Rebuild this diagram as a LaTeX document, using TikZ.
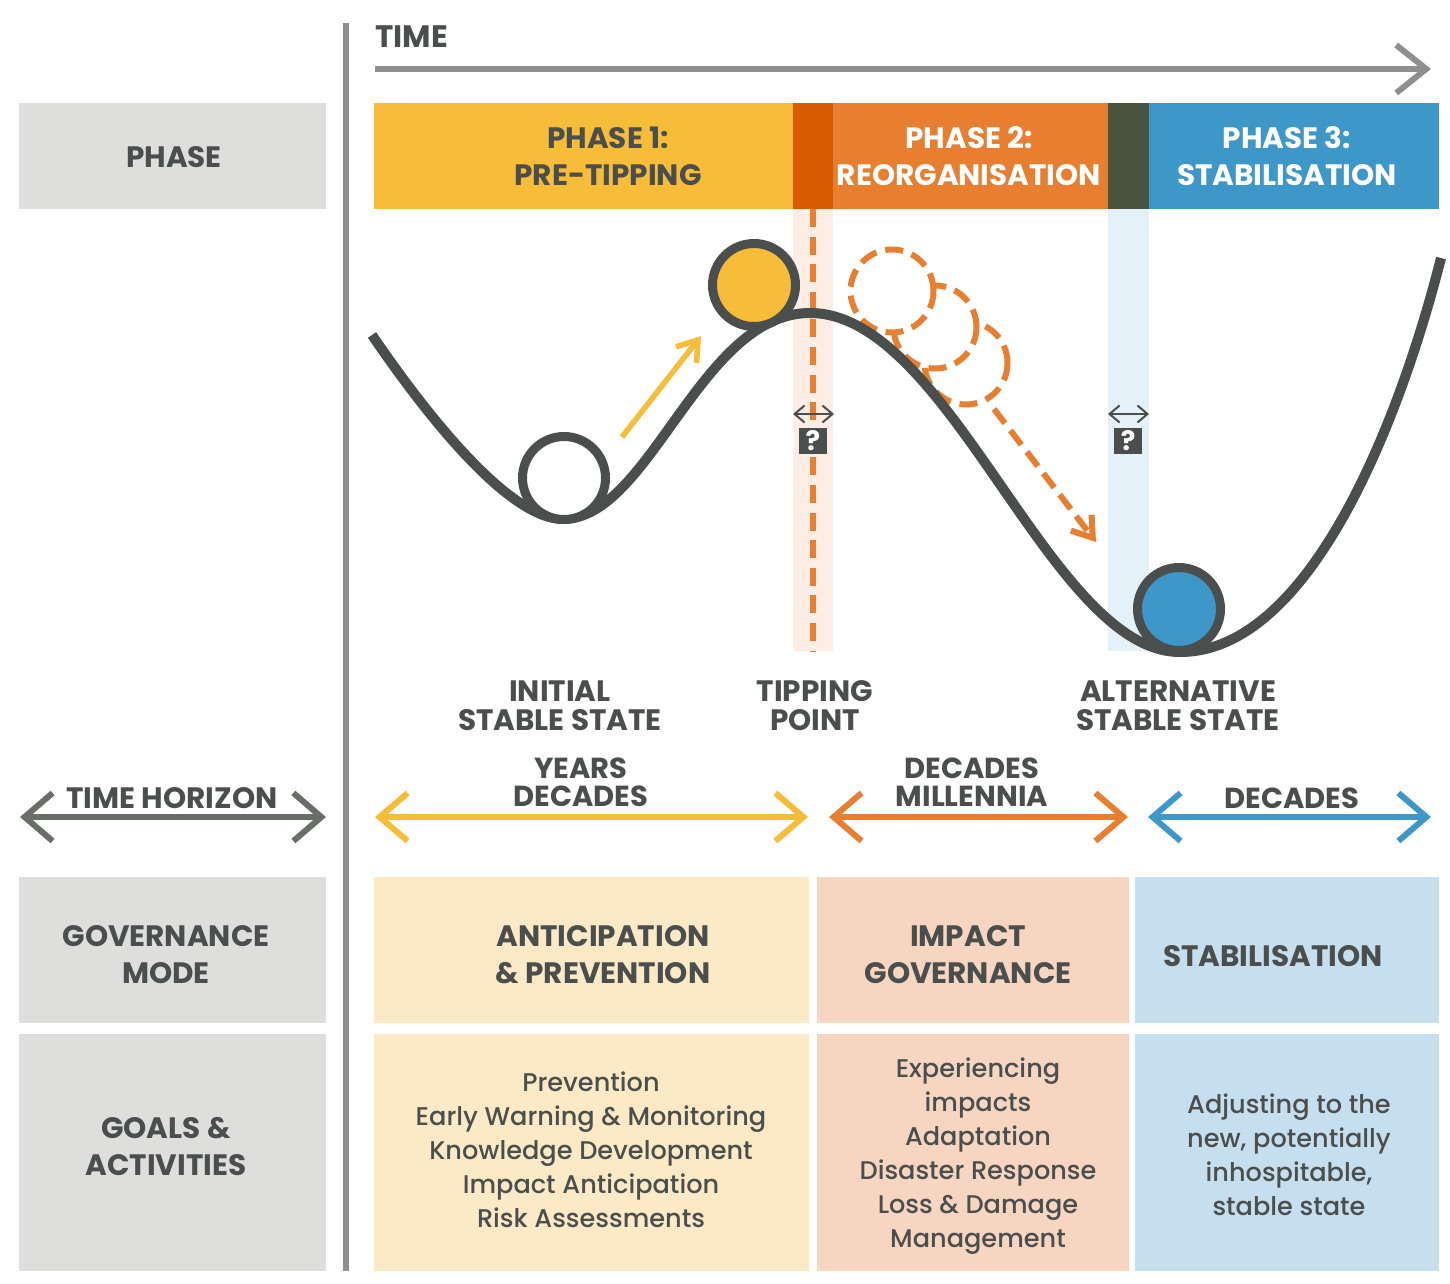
\documentclass[tikz,border=0pt]{standalone}
\usepackage{fontspec}
\setmainfont{Poppins}
\newfontfamily\bodyfont{Poppins Medium}
\usetikzlibrary{arrows.meta}
\definecolor{ink}{HTML}{4A4E4C}
\definecolor{rulegray}{HTML}{8E8F8E}
\definecolor{horizongray}{HTML}{696E69}
\definecolor{boxgray}{HTML}{DEDEDD}
\definecolor{sunny}{HTML}{F7BC38}
\definecolor{burnt}{HTML}{D95B00}
\definecolor{amber}{HTML}{E87E2F}
\definecolor{moss}{HTML}{4A5340}
\definecolor{ocean}{HTML}{3D97C8}
\definecolor{palesunny}{HTML}{FCE9C5}
\definecolor{paleamber}{HTML}{F7D6C1}
\definecolor{paleocean}{HTML}{C6DFEF}
\definecolor{bandamber}{HTML}{FDEEE5}
\definecolor{bandocean}{HTML}{E5F1F8}
\tikzset{
  head/.style={font=\fontsize{29.5}{37}\selectfont\bfseries,text=ink,align=center,inner sep=0pt},
  label/.style={font=\fontsize{29.5}{29}\selectfont\bfseries,text=ink,align=center,inner sep=0pt},
  body/.style={font=\fontsize{25.6}{34}\selectfont\bodyfont,text=ink,align=center,inner sep=0pt},
  span/.style={line width=6pt,{Straight Barb[length=28pt,width=48pt]}-{Straight Barb[length=28pt,width=48pt]}},
  narrow/.style={line width=2pt,ink,{Straight Barb[length=10pt,width=17pt]}-{Straight Barb[length=10pt,width=17pt]}},
  ball/.style={circle,draw=ink,line width=9pt,minimum size=83pt,inner sep=0pt},
  ghost/.style={circle,draw=amber,fill=white,line width=6pt,dash pattern=on 18pt off 9pt,minimum size=83pt,inner sep=0pt},
  query/.style={fill=ink,text=white,minimum width=28pt,minimum height=26pt,inner sep=0pt,font=\fontsize{27}{27}\selectfont\bfseries},
}
\begin{document}
\begin{tikzpicture}[x=1pt,y=-1pt]
  \useasboundingbox (0,0) rectangle (1450,1284);
  % left column
  \fill[boxgray] (19,103) rectangle (326,209);
  \fill[boxgray] (19,877) rectangle (326,1023);
  \fill[boxgray] (19,1034) rectangle (326,1271);
  \coordinate (railtop) at (346,23);
  \coordinate (railend) at (346,1271);
  \draw[rulegray,line width=6pt] (railtop) -- (railend);
  % time arrow
  \node[head,anchor=west,font=\fontsize{31}{37}\selectfont\bfseries] (timelabel) at (375,37) {TIME};
  \coordinate (timestart) at (375,69);
  \coordinate (timeend) at (1431,69);
  \draw[rulegray,line width=6pt,-{Straight Barb[length=30pt,width=48pt]}] (timestart) -- (timeend);
  % phase bars
  \fill[sunny] (374,103) rectangle (793,209);
  \fill[burnt] (793,103) rectangle (833,209);
  \fill[amber] (833,103) rectangle (1108,209);
  \fill[moss] (1108,103) rectangle (1149,209);
  \fill[ocean] (1149,103) rectangle (1439,209);
  \node[head] (phaselabel) at (174,157) {PHASE};
  \node[head] (phaseone) at (608,156) {PHASE 1:\\PRE-TIPPING};
  \node[head,text=white] (phasetwo) at (969,156) {PHASE 2:\\REORGANISATION};
  \node[head,text=white] (phasethree) at (1287,156) {PHASE 3:\\STABILISATION};
  % bands
  \fill[bandamber] (793,209) rectangle (833,651);
  \fill[bandocean] (1108,209) rectangle (1149,651);
  \coordinate (tipstart) at (813,209);
  \coordinate (tipend) at (813,651);
  \draw[amber,line width=6pt,dash pattern=on 18pt off 9.6pt] (tipstart) -- (tipend);
  % ghost balls
  \node[ghost] (ghostc) at (966,363) {};
  \node[ghost] (ghostb) at (935,327) {};
  \node[ghost] (ghosta) at (892,291) {};
  \coordinate (fallend) at (1096,542);
  \draw[amber,line width=6pt,dash pattern=on 18pt off 9pt,-{Straight Barb[length=19pt,width=26pt]}] (ghostc) ++(28,46) -- (fallend);
  % landscape
  \draw[ink,line width=10pt] (372,335) .. controls (430,420) and (510,519) .. (563,519)
    .. controls (650,519) and (700,313) .. (810,313)
    .. controls (950,313) and (1050,652) .. (1180,652)
    .. controls (1310,652) and (1400,420) .. (1441,258);
  \node[ball,fill=white] (ballinitial) at (564,478) {};
  \node[ball,fill=sunny] (balltip) at (754,285) {};
  \node[ball,fill=ocean] (ballstable) at (1179,609) {};
  \coordinate (pushstart) at (622,437);
  \coordinate (pushend) at (701,336);
  \draw[sunny,line width=5.5pt,-{Straight Barb[length=19pt,width=26pt]}] (pushstart) -- (pushend);
  % uncertainty marks
  \coordinate (tipleft) at (793,414);
  \coordinate (tipright) at (834,414);
  \draw[narrow] (tipleft) -- (tipright);
  \node[query] (querytip) at (813,441) {?};
  \coordinate (stableleft) at (1108,414);
  \coordinate (stableright) at (1149,414);
  \draw[narrow] (stableleft) -- (stableright);
  \node[query] (querystable) at (1128,441) {?};
  % state labels
  \node[label] (initial) at (560,706) {INITIAL\\STABLE STATE};
  \node[label] (tipping) at (815,706) {TIPPING\\POINT};
  \node[label] (alternative) at (1178,706) {ALTERNATIVE\\STABLE STATE};
  % time horizon
  \node[label] (horizon) at (172,798) {TIME HORIZON};
  \coordinate (horizonl) at (20,817);
  \coordinate (horizonr) at (326,817);
  \draw[span,draw=horizongray] (horizonl) -- (horizonr);
  \node[label,font=\fontsize{29}{28}\selectfont\bfseries] (yearsdecades) at (581,782) {YEARS\\DECADES};
  \coordinate (yearsl) at (375,817);
  \coordinate (yearsr) at (808,817);
  \draw[span,draw=sunny] (yearsl) -- (yearsr);
  \node[label,font=\fontsize{29}{28}\selectfont\bfseries] (decadesmill) at (972,782) {DECADES\\MILLENNIA};
  \coordinate (decl) at (829,817);
  \coordinate (decr) at (1128,817);
  \draw[span,draw=amber] (decl) -- (decr);
  \node[label,font=\fontsize{29}{28}\selectfont\bfseries] (decades) at (1292,798) {DECADES};
  \coordinate (stabl) at (1148,817);
  \coordinate (stabr) at (1431,817);
  \draw[span,draw=ocean] (stabl) -- (stabr);
  % governance row
  \fill[palesunny] (374,877) rectangle (809,1023);
  \fill[paleamber] (817,877) rectangle (1129,1023);
  \fill[paleocean] (1135,877) rectangle (1439,1023);
  \node[head] (govmode) at (166,955) {GOVERNANCE\\MODE};
  \node[head] (anticipation) at (603,955) {ANTICIPATION\\\& PREVENTION};
  \node[head] (impact) at (968,955) {IMPACT\\GOVERNANCE};
  \node[head] (stabilisation) at (1273,956) {STABILISATION};
  % goals row
  \fill[palesunny] (374,1034) rectangle (809,1271);
  \fill[paleamber] (817,1034) rectangle (1129,1271);
  \fill[paleocean] (1135,1034) rectangle (1439,1271);
  \node[head] (goals) at (166,1147) {GOALS \&\\ACTIVITIES};
  \node[body] (goalsone) at (591,1150) {Prevention\\Early Warning \& Monitoring\\Knowledge Development\\Impact Anticipation\\Risk Assessments};
  \node[body] (goalstwo) at (978,1156) {Experiencing\\impacts\\Adaptation\\Disaster Response\\Loss \& Damage\\Management};
  \node[body] (goalsthree) at (1289,1155) {Adjusting to the\\new, potentially\\inhospitable,\\stable state};
\end{tikzpicture}
\end{document}
